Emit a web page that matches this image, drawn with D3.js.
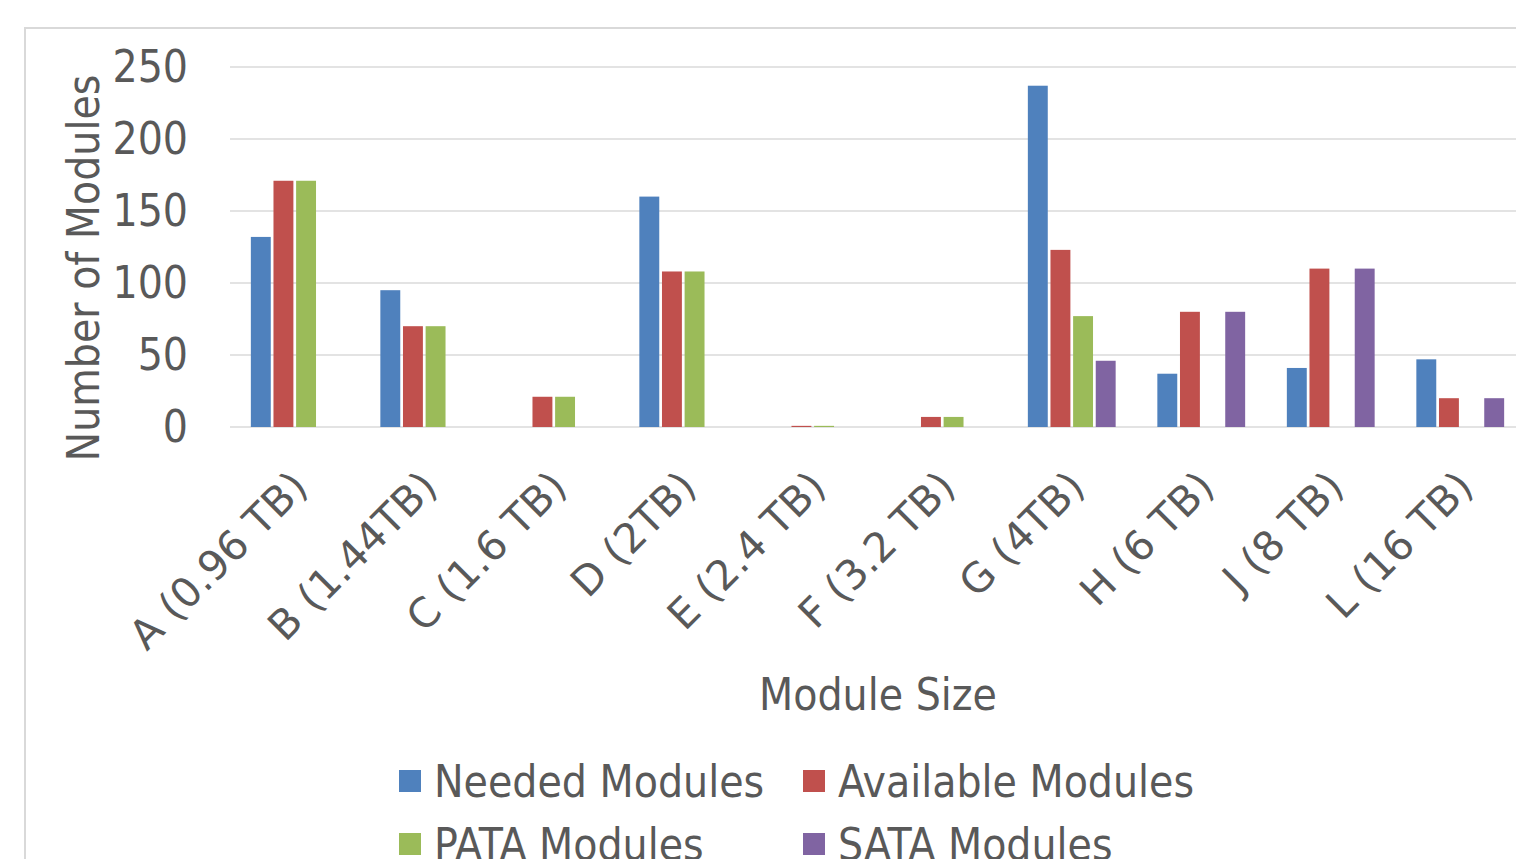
<!DOCTYPE html>
<html>
<head>
<meta charset="utf-8">
<script src="https://cdn.jsdelivr.net/npm/d3@7"></script>
<style>
  html, body { margin: 0; padding: 0; background: #fff; }
  svg { display: block; }
  text { font-family: "DejaVu Sans Condensed", "DejaVu Sans", sans-serif; fill: #595959; }
</style>
</head>
<body>
<svg id="chart" width="1516" height="859"></svg>
<script>
// Module counts per drive size
const categories = ["A (0.96 TB)", "B (1.44TB)", "C (1.6 TB)", "D (2TB)", "E (2.4 TB)",
                    "F (3.2 TB)", "G (4TB)", "H (6 TB)", "J (8 TB)", "L (16 TB)"];
const seriesNames = ["Needed Modules", "Available Modules", "PATA Modules", "SATA Modules"];
const neededModules    = [132, 95, 0, 160, 0, 0, 237, 37, 41, 47];
const availableModules = [171, 70, 21, 108, 0.8, 7, 123, 80, 110, 20];
const pataModules      = [171, 70, 21, 108, 0.8, 7, 77, 0, 0, 0];
const sataModules      = [0, 0, 0, 0, 0, 0, 46, 80, 110, 20];
const yTicks = [0, 50, 100, 150, 200, 250];
const colors = ["#4f81bd", "#c0504d", "#9bbb59", "#8064a2"];

const seriesValues = [neededModules, availableModules, pataModules, sataModules];

const svg = d3.select("#chart");

// chart frame
svg.append("rect")
  .attr("x", 25).attr("y", 28).attr("width", 1600).attr("height", 900)
  .attr("fill", "none").attr("stroke", "#d9d9d9").attr("stroke-width", 2);

const plotLeft = 230, plotTop = 67, plotBottom = 427, plotRight = 1525;

const y = d3.scaleLinear().domain([0, 250]).range([plotBottom, plotTop]);
const x0 = d3.scaleBand().domain(categories).range([plotLeft, plotRight])
  .paddingInner(0.28).paddingOuter(0.14);
const x1 = d3.scaleBand().domain(seriesNames).range([0, x0.bandwidth()]).padding(0.12);

// gridlines
svg.append("g")
  .selectAll("line").data(yTicks).join("line")
  .attr("x1", plotLeft).attr("x2", plotRight)
  .attr("y1", d => y(d)).attr("y2", d => y(d))
  .attr("stroke", "#e3e3e3").attr("stroke-width", 2);

// y axis labels
const yAxis = d3.axisLeft(y).tickValues(yTicks).tickSize(0).tickPadding(0);
const yg = svg.append("g").attr("transform", `translate(188,0)`).call(yAxis);
yg.select(".domain").remove();
yg.selectAll("text").attr("font-size", 44).attr("fill", "#595959")
  .style("font-family", '"DejaVu Sans Condensed", "DejaVu Sans", sans-serif');

// bars
const groups = svg.append("g").selectAll("g").data(categories).join("g")
  .attr("transform", d => `translate(${x0(d)},0)`);
groups.selectAll("rect")
  .data((c, ci) => seriesNames.map((s, si) => ({ s, si, v: seriesValues[si][ci] })))
  .join("rect")
  .attr("x", d => x1(d.s))
  .attr("width", x1.bandwidth())
  .attr("y", d => y(d.v))
  .attr("height", d => y(0) - y(d.v))
  .attr("fill", d => colors[d.si]);

// x axis labels
const xAxis = d3.axisBottom(x0).tickSize(0).tickPadding(0);
const xg = svg.append("g").attr("transform", `translate(0,${plotBottom})`).call(xAxis);
xg.select(".domain").remove();
xg.selectAll("text")
  .attr("font-size", 41).attr("fill", "#595959")
  .style("font-family", '"DejaVu Sans", sans-serif')
  .attr("text-anchor", "end")
  .attr("dy", 0).attr("y", 0)
  .attr("transform", "translate(15,62) rotate(-45)");

// axis titles
svg.append("text")
  .attr("transform", "translate(99,268) rotate(-90)")
  .attr("text-anchor", "middle").attr("font-size", 44)
  .text("Number of Modules");
svg.append("text")
  .attr("x", 878).attr("y", 710)
  .attr("text-anchor", "middle").attr("font-size", 44)
  .text("Module Size");

// legend
const legendPos = [[399, 770], [803, 770], [399, 833], [803, 833]];
const lg = svg.append("g").selectAll("g").data(seriesNames).join("g")
  .attr("transform", (d, i) => `translate(${legendPos[i][0]},${legendPos[i][1]})`);
lg.append("rect").attr("width", 22).attr("height", 22).attr("fill", (d, i) => colors[i]);
lg.append("text").attr("x", 35).attr("y", 27).attr("font-size", 44).text(d => d);
</script>
</body>
</html>
